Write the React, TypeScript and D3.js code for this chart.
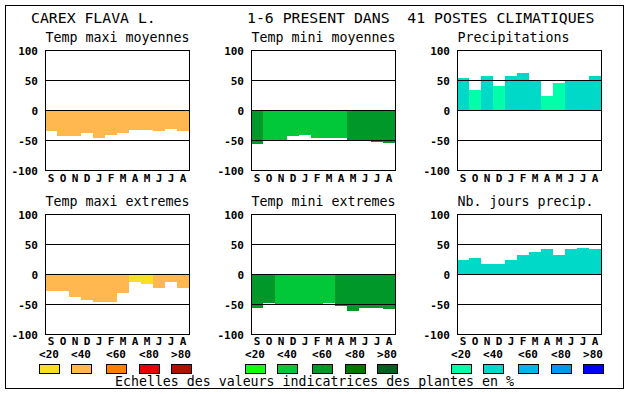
import React from "react";
import * as d3 from "d3";

// Month initials, Sept -> Aug
const MONTHS = ["S", "O", "N", "D", "J", "F", "M", "A", "M", "J", "J", "A"];
const Y_TICKS = [100, 50, 0, -50, -100];
const GRID_LINES = [50, 0, -50];
const LEGEND_LABELS = ["<20", "<40", "<60", "<80", ">80"];

// values (% scale) and colour class (0..4) per month
const TMAX_MOY = [-35, -43, -44, -38, -46, -41, -38, -33, -33, -35, -31, -35];
const TMAX_MOY_CLS = [1, 1, 1, 1, 1, 1, 1, 1, 1, 1, 1, 1];
const TMIN_MOY = [-57, -50, -50, -44, -42, -46, -47, -46, -50, -52, -54, -55];
const TMIN_MOY_CLS = [2, 1, 1, 1, 1, 1, 1, 1, 2, 2, 2, 2];
const PRECIP = [54, 33, 56, 40, 57, 61, 48, 24, 45, 48, 50, 56];
const PRECIP_CLS = [1, 0, 1, 0, 1, 1, 1, 0, 0, 1, 1, 1];
const TMAX_EXT = [-28, -28, -38, -44, -46, -46, -32, -14, -16, -23, -14, -23];
const TMAX_EXT_CLS = [1, 1, 1, 1, 1, 1, 1, 0, 0, 1, 1, 1];
const TMIN_EXT = [-56, -48, -50, -52, -52, -50, -48, -54, -61, -56, -56, -58];
const TMIN_EXT_CLS = [2, 2, 1, 1, 1, 1, 1, 2, 2, 2, 2, 2];
const NB_JOURS = [24, 27, 17, 17, 24, 32, 36, 41, 32, 41, 44, 42];
const NB_JOURS_CLS = [1, 1, 1, 1, 1, 1, 1, 1, 1, 1, 1, 1];

const ORANGES = ["#f8e020", "#ffb850", "#ff8000", "#e80000", "#b01000"];
const GREENS = ["#10ff10", "#00c838", "#009828", "#007800", "#006020"];
const BLUES = ["#00ffa8", "#00d8c8", "#00b8e0", "#0098e8", "#0000f8"];

const W = 630;
const H = 394;
const COL_X = [45.5, 251.5, 457.5];
const ROW_Y = [50.5, 214.5];
const MONTH_DY = [11.5, 10];
const PLOT_W = 144;
const PLOT_H = 120;
const LEGEND_DX = [-6, 26, 61, 94, 126];
const MONO = "'DejaVu Sans Mono', monospace";

const PANELS = [
  { title: "Temp maxi moyennes", values: TMAX_MOY, cls: TMAX_MOY_CLS, palette: ORANGES, col: 0, row: 0 },
  { title: "Temp mini moyennes", values: TMIN_MOY, cls: TMIN_MOY_CLS, palette: GREENS, col: 1, row: 0 },
  { title: "Precipitations", values: PRECIP, cls: PRECIP_CLS, palette: BLUES, col: 2, row: 0 },
  { title: "Temp maxi extremes", values: TMAX_EXT, cls: TMAX_EXT_CLS, palette: ORANGES, col: 0, row: 1 },
  { title: "Temp mini extremes", values: TMIN_EXT, cls: TMIN_EXT_CLS, palette: GREENS, col: 1, row: 1 },
  { title: "Nb. jours precip.", values: NB_JOURS, cls: NB_JOURS_CLS, palette: BLUES, col: 2, row: 1 },
];

function Panel({ p }: { p: typeof PANELS[number] }) {
  const left = COL_X[p.col];
  const top = ROW_Y[p.row];
  const x = d3.scaleBand<number>().domain(d3.range(12)).range([left - 0.5, left - 0.5 + PLOT_W]);
  const y = d3.scaleLinear().domain([-100, 100]).range([top + PLOT_H, top]);

  return (
    <g>
      <text x={left} y={top - 8.5} fontFamily={MONO} fontSize={13.3} fill="#000">
        {p.title}
      </text>
      {p.values.map((v, i) => (
        <rect
          key={i}
          x={x(i)}
          y={Math.min(y(0), y(v)) - 0.5}
          width={x.bandwidth()}
          height={Math.abs(y(v) - y(0))}
          fill={p.palette[p.cls[i]]}
          shapeRendering="crispEdges"
        />
      ))}
      {GRID_LINES.map((g) => (
        <line key={g} x1={left} x2={left + PLOT_W} y1={y(g)} y2={y(g)} stroke="#000" strokeWidth={1} shapeRendering="crispEdges" />
      ))}
      <rect x={left} y={top} width={PLOT_W} height={PLOT_H} fill="none" stroke="#000" strokeWidth={1} shapeRendering="crispEdges" />
      {Y_TICKS.map((t) => (
        <text key={t} x={left - 7.5} y={y(t) + 4} textAnchor="end" fontFamily={MONO} fontSize={11} fontWeight="bold" fill="#000">
          {t}
        </text>
      ))}
      {MONTHS.map((m, i) => (
        <text key={i} x={(x(i) ?? 0) + x.bandwidth() / 2} y={top + PLOT_H + MONTH_DY[p.row]} textAnchor="middle" fontFamily={MONO} fontSize={11} fontWeight="bold" fill="#000">
          {m}
        </text>
      ))}
    </g>
  );
}

function Legend({ col, palette }: { col: number; palette: string[] }) {
  const left = COL_X[col] - 0.5;
  return (
    <g>
      {LEGEND_LABELS.map((l, i) => (
        <g key={i}>
          <text x={left + LEGEND_DX[i] + 10} y={357.8} textAnchor="middle" fontFamily={MONO} fontSize={11} fontWeight="bold" fill="#000">
            {l}
          </text>
          <rect x={left + LEGEND_DX[i] + 0.5} y={364.5} width={20} height={9} fill={palette[i]} stroke="#000" strokeWidth={1} shapeRendering="crispEdges" />
        </g>
      ))}
    </g>
  );
}

export default function App() {
  return (
    <svg width={W} height={H} style={{ position: "absolute", left: 0, top: 0, background: "#fff" }}>
      <rect x={0} y={0} width={W} height={H} fill="#fff" />
      <rect x={5.5} y={5.5} width={618} height={383} fill="none" stroke="#000" strokeWidth={1} shapeRendering="crispEdges" />
      <text x={31} y={23} fontFamily={MONO} fontSize={14.8} fill="#000" style={{ whiteSpace: "pre" }}>
        CAREX FLAVA L.
      </text>
      <text x={247} y={23} fontFamily={MONO} fontSize={14.8} fill="#000" style={{ whiteSpace: "pre" }}>
        {"1-6 PRESENT DANS  41 POSTES CLIMATIQUES"}
      </text>
      {PANELS.map((p, i) => (
        <Panel key={i} p={p} />
      ))}
      <Legend col={0} palette={ORANGES} />
      <Legend col={1} palette={GREENS} />
      <Legend col={2} palette={BLUES} />
      <text x={115} y={386} fontFamily={MONO} fontSize={13.25} fill="#000">
        Echelles des valeurs indicatrices des plantes en %
      </text>
    </svg>
  );
}
